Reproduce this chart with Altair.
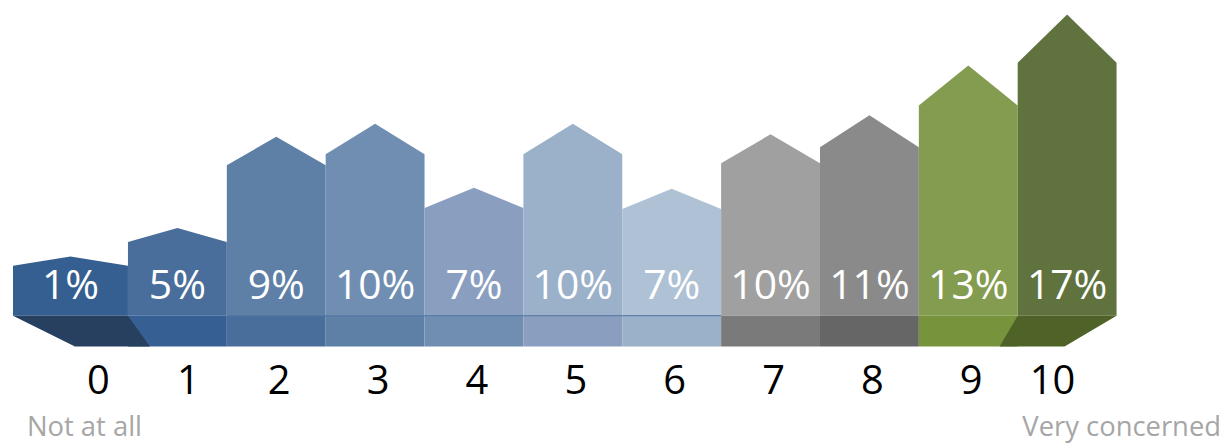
import altair as alt
import pandas as pd

# ---- data ----
categories = ["0", "1", "2", "3", "4", "5", "6", "7", "8", "9", "10"]
values = [1, 5, 9, 10, 7, 10, 7, 10, 11, 13, 17]
# visual column heights (shoulder of each "house"), as drawn in the reference
column_heights = [5.0, 7.4, 15.1, 16.2, 10.8, 16.2, 10.7, 15.3, 16.9, 21.1, 25.4]
body_colors = ["#365f91", "#4a6e9b", "#5e7fa6", "#708eb2", "#8a9fbf", "#9bb0c9",
               "#afc1d4", "#a0a0a0", "#8a8a8a", "#849c4f", "#60733f"]
base_colors = ["#27405f", "#365f93", "#4a6e9b", "#5e7fa6", "#708eb2", "#8a9fbf",
               "#9bb0c9", "#7a7a7a", "#666666", "#77933c", "#4f6228"]
end_labels = ["Not at all", "Very concerned"]

# ---- style constants ----
ROOF = 0.19          # roof rise relative to column height
FIRST_EXTRA = 0.163  # first column is a little wider on the left
BASE_DEPTH = 3.1     # depth of the 3-D base band
LABEL_Y = 2.85
TICK_Y = -6.65
FONT = "Open Sans"
W, H = 1220, 436

n = len(categories)
lefts = [i - (FIRST_EXTRA if i == 0 else 0.0) for i in range(n)]
rights = [i + 1.0 for i in range(n)]
mids = [(l + r) / 2 for l, r in zip(lefts, rights)]

house_rows = []
for i in range(n):
    h = column_heights[i]
    for k, (x, y) in enumerate([(lefts[i], h), (mids[i], h * (1 + ROOF)), (rights[i], h)]):
        house_rows.append({"bar": f"b{i:02d}", "px": x, "top": y, "bot": 0.0, "col": body_colors[i]})
houses = pd.DataFrame(house_rows)

mid_bases = pd.DataFrame({
    "px": lefts[1:-1], "px2": rights[1:-1],
    "top": [0.0] * (n - 2), "bot": [-BASE_DEPTH] * (n - 2),
    "col": base_colors[1:-1],
})

D = BASE_DEPTH
first_pts = [(lefts[0], 0, 0), (lefts[0] + 0.627, 0, -D), (rights[0], 0, -D), (rights[0] + 0.222, -D, -D)]
last_pts = [(lefts[-1] - 0.183, -D, -D), (lefts[-1], 0, -D), (lefts[-1] + 0.474, 0, -D), (rights[-1], 0, 0)]
end_rows = []
for b, pts, c in [(0, first_pts, base_colors[0]), (n - 1, last_pts, base_colors[-1])]:
    for x, yt, yb in pts:
        end_rows.append({"bar": f"b{b:02d}", "px": x, "top": yt, "bot": yb, "col": c})
end_bases = pd.DataFrame(end_rows)

# category labels sit under the visible part of each base
first_bot_mid = (first_pts[1][0] + first_pts[3][0]) / 2
last_bot_mid = (last_pts[0][0] + last_pts[2][0]) / 2
tick_x = [m + 0.03 for m in mids]
tick_x[0] = (mids[0] + 2 * first_bot_mid) / 3
tick_x[1] = (first_pts[3][0] + rights[1]) / 2
tick_x[-1] = (mids[-1] + last_bot_mid) / 2 + 0.03

labels = pd.DataFrame({
    "px": mids, "top": [LABEL_Y] * n,
    "txt": [f"{v}%" for v in values],
})
ticks = pd.DataFrame({"px": tick_x, "top": [TICK_Y] * n, "txt": categories})

xs = alt.Scale(domain=[-0.2134, -0.2134 + 12.29], nice=False, zero=False)
ys = alt.Scale(domain=[-12.8, 30.8], nice=False, zero=False)


def X():
    return alt.X("px:Q", scale=xs, axis=None)


def Y():
    return alt.Y("top:Q", scale=ys, axis=None, stack=None)


house_layer = alt.Chart(houses).mark_area(interpolate="linear").encode(
    x=X(), y=Y(), y2="bot:Q", detail="bar:N",
    fill=alt.Fill("col:N", scale=None, legend=None),
)

mid_base_layer = alt.Chart(mid_bases).mark_rect().encode(
    x=X(), x2="px2:Q", y=Y(), y2="bot:Q",
    fill=alt.Fill("col:N", scale=None, legend=None),
)

end_base_layer = alt.Chart(end_bases).mark_area(interpolate="linear").encode(
    x=X(), y=Y(), y2="bot:Q", detail="bar:N",
    fill=alt.Fill("col:N", scale=None, legend=None),
)

edge_layer = alt.Chart(pd.DataFrame({"px": [lefts[2]], "px2": [rights[6]], "top": [0.0]})).mark_rule(
    color="#4f72a0", strokeWidth=1.2, opacity=0.8
).encode(x=X(), x2="px2:Q", y=Y())

label_layer = alt.Chart(labels).mark_text(
    font=FONT, fontSize=41, color="white", baseline="middle", align="center"
).encode(x=X(), y=Y(), text="txt:N")

tick_layer = alt.Chart(ticks).mark_text(
    font=FONT, fontSize=40, color="#000000", baseline="middle", align="center"
).encode(x=X(), y=Y(), text="txt:N")

foot_l = pd.DataFrame({"txt": [end_labels[0]]})
foot_r = pd.DataFrame({"txt": [end_labels[1]]})
foot_left = alt.Chart(foot_l).mark_text(
    font=FONT, fontSize=27.5, color="#a6a6a6", baseline="middle", align="left"
).encode(x=alt.value(19), y=alt.value(421), text="txt:N")
foot_right = alt.Chart(foot_r).mark_text(
    font=FONT, fontSize=27.5, color="#a6a6a6", baseline="middle", align="right"
).encode(x=alt.value(1218), y=alt.value(421), text="txt:N")

chart = alt.layer(
    house_layer, mid_base_layer, end_base_layer, edge_layer,
    label_layer, tick_layer, foot_left, foot_right,
).properties(
    width=W, height=H, padding=0,
    autosize=alt.AutoSizeParams(type="none"),
).configure_view(stroke=None)

chart.save("out.html", embed_options={"renderer": "svg", "actions": False})
